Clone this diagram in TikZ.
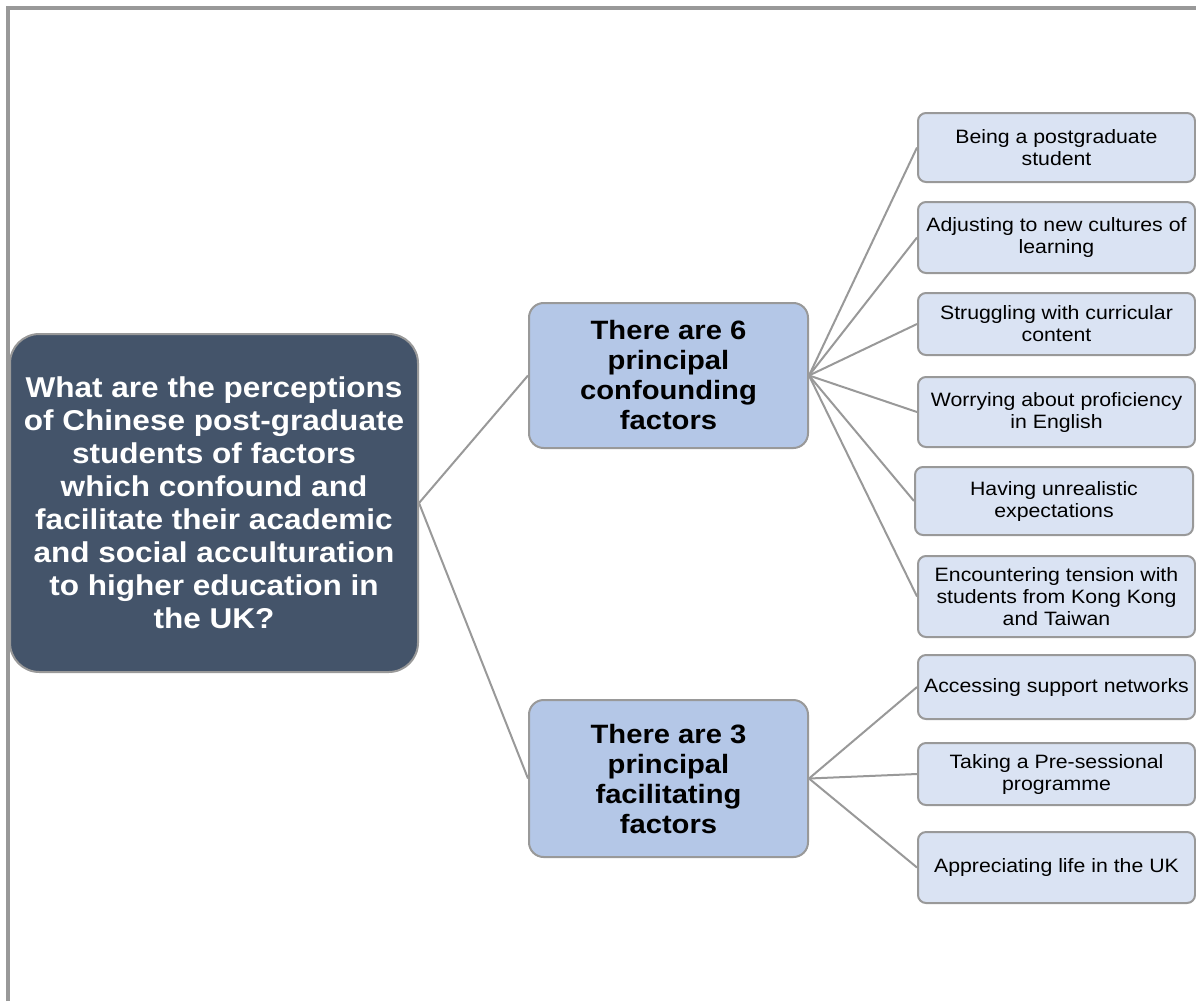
\documentclass[tikz,border=0pt]{standalone}
\usepackage{fontspec}
\setmainfont{Liberation Sans}[FakeStretch=1.1]
\definecolor{qfill}{HTML}{44546A}
\definecolor{midfill}{HTML}{B4C7E7}
\definecolor{leaffill}{HTML}{DAE3F3}
\definecolor{edgegray}{HTML}{999999}
\begin{document}
\begin{tikzpicture}[x=0.75pt,y=-0.75pt,
  box/.style={draw=edgegray,line width=1.5pt,align=center,inner sep=0pt,anchor=center},
  question/.style={box,fill=qfill,text=white,rounded corners=22pt,
    minimum width=408*0.75pt,minimum height=338*0.75pt,
    font=\fontsize{21.5pt}{24.75pt}\selectfont\bfseries},
  branch/.style={box,fill=midfill,text=black,rounded corners=11pt,
    minimum width=279*0.75pt,
    font=\fontsize{19.9pt}{22.5pt}\selectfont\bfseries},
  leaf/.style={box,fill=leaffill,text=black,rounded corners=6pt,
    minimum width=277*0.75pt,
    font=\fontsize{14.5pt}{16.5pt}\selectfont},
  link/.style={draw=edgegray,line width=1.5pt}]
\useasboundingbox (0,0) rectangle (1196,1001);
% page frame
\draw[edgegray,line width=2.4pt] (8,1001) -- (8,8) -- (1196,8);

% central question
\node[question] (q) at (214,503) {What are the perceptions\\of Chinese post-graduate\\students of factors\\which confound and\\facilitate their academic\\and social acculturation\\to higher education in\\the UK?};

% two groups of factors
\node[branch,minimum height=145*0.75pt] (conf) at (668.5,375.5) {There are 6\\principal\\confounding\\factors};
\node[branch,minimum height=157*0.75pt] (fac) at (668.5,778.5) {There are 3\\principal\\facilitating\\factors};

% confounding factors
\node[leaf,minimum height=69*0.75pt] (c1) at (1056.5,147.5) {Being a postgraduate\\student};
\node[leaf,minimum height=71*0.75pt] (c2) at (1056.5,237.5) {Adjusting to new cultures of\\learning};
\node[leaf,minimum height=62*0.75pt] (c3) at (1056.5,324) {Struggling with curricular\\content};
\node[leaf,minimum height=70*0.75pt] (c4) at (1056.5,412) {Worrying about proficiency\\in English};
\node[leaf,minimum height=68*0.75pt,minimum width=278*0.75pt] (c5) at (1054,501) {Having unrealistic\\expectations};
\node[leaf,minimum height=81*0.75pt] (c6) at (1056.5,596.5) {Encountering tension with\\students from Kong Kong\\and Taiwan};

% facilitating factors
\node[leaf,minimum height=64*0.75pt] (f1) at (1056.5,687) {Accessing support networks};
\node[leaf,minimum height=62*0.75pt] (f2) at (1056.5,774) {Taking a Pre-sessional\\programme};
\node[leaf,minimum height=71*0.75pt] (f3) at (1056.5,867.5) {Appreciating life in the UK};

% connectors
\draw[link] (q.east) -- (conf.west);
\draw[link] (q.east) -- (fac.west);
\foreach \n in {c1,c2,c3,c4,c5,c6}
  \draw[link] (conf.east) -- (\n.west);
\foreach \n in {f1,f2,f3}
  \draw[link] (fac.east) -- (\n.west);
\end{tikzpicture}
\end{document}
